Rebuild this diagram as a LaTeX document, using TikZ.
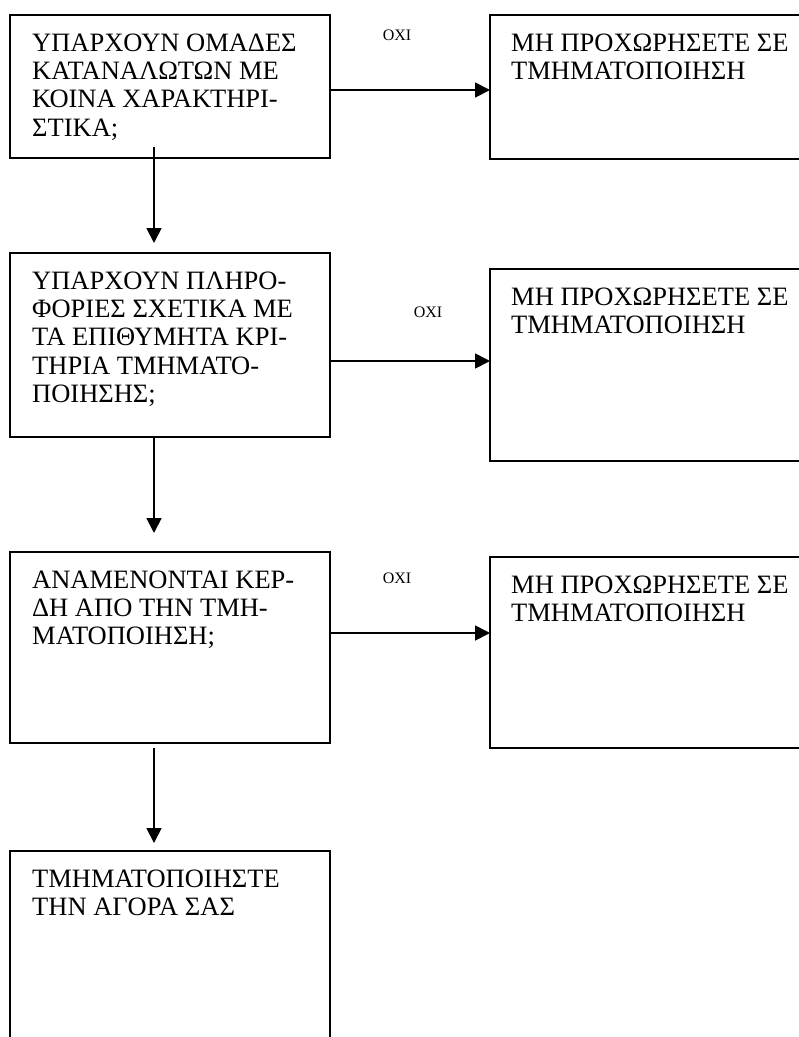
\documentclass[tikz,border=0pt]{standalone}
\usepackage{fontspec}
\setmainfont{Liberation Serif}
\usetikzlibrary{arrows.meta,calc}
\begin{document}
\begin{tikzpicture}[x=1pt,y=-1pt,
  box/.style={draw, line width=2pt, rectangle, inner sep=0pt, outer sep=0pt, anchor=north west},
  txt/.style={anchor=north west, inner sep=0pt, align=left, font=\fontsize{26.5}{28.3}\selectfont},
  lbl/.style={inner sep=0pt, font=\fontsize{16}{18}\selectfont},
  arr/.style={line width=1.8pt, -{Triangle[length=15pt,width=15pt]}}]
\useasboundingbox (0,0) rectangle (799,1037);
% left column boxes
\node[box, minimum width=320pt, minimum height=143pt] (b1) at (10,15) {};
\node[box, minimum width=320pt, minimum height=184pt] (b2) at (10,253) {};
\node[box, minimum width=320pt, minimum height=191pt] (b3) at (10,552) {};
\node[box, minimum width=320pt, minimum height=190pt] (b4) at (10,851) {};
% right column boxes
\node[box, minimum width=313pt, minimum height=144pt] (r1) at (490,15) {};
\node[box, minimum width=313pt, minimum height=192pt] (r2) at (490,269) {};
\node[box, minimum width=313pt, minimum height=191pt] (r3) at (490,557) {};
% texts
\node[txt] (t1) at ([xshift=22pt,yshift=-18.5pt]b1.north west) {ΥΠΑΡΧΟΥΝ ΟΜΑΔΕΣ\\ΚΑΤΑΝΑΛΩΤΩΝ ΜΕ\\ΚΟΙΝΑ ΧΑΡΑΚΤΗΡΙ-\\ΣΤΙΚΑ;};
\node[txt] (t2) at ([xshift=22pt,yshift=-18.5pt]b2.north west) {ΥΠΑΡΧΟΥΝ ΠΛΗΡΟ-\\ΦΟΡΙΕΣ ΣΧΕΤΙΚΑ ΜΕ\\ΤΑ ΕΠΙΘΥΜΗΤΑ ΚΡΙ-\\ΤΗΡΙΑ ΤΜΗΜΑΤΟ-\\ΠΟΙΗΣΗΣ;};
\node[txt] (t3) at ([xshift=22pt,yshift=-18.5pt]b3.north west) {ΑΝΑΜΕΝΟΝΤΑΙ ΚΕΡ-\\ΔΗ ΑΠΟ ΤΗΝ ΤΜΗ-\\ΜΑΤΟΠΟΙΗΣΗ;};
\node[txt] (t4) at ([xshift=22pt,yshift=-18.5pt]b4.north west) {ΤΜΗΜΑΤΟΠΟΙΗΣΤΕ\\ΤΗΝ ΑΓΟΡΑ ΣΑΣ};
\node[txt] (s1) at ([xshift=21pt,yshift=-18.5pt]r1.north west) {ΜΗ ΠΡΟΧΩΡΗΣΕΤΕ ΣΕ\\ΤΜΗΜΑΤΟΠΟΙΗΣΗ};
\node[txt] (s2) at ([xshift=21pt,yshift=-18.5pt]r2.north west) {ΜΗ ΠΡΟΧΩΡΗΣΕΤΕ ΣΕ\\ΤΜΗΜΑΤΟΠΟΙΗΣΗ};
\node[txt] (s3) at ([xshift=21pt,yshift=-18.5pt]r3.north west) {ΜΗ ΠΡΟΧΩΡΗΣΕΤΕ ΣΕ\\ΤΜΗΜΑΤΟΠΟΙΗΣΗ};
% labels
\node[lbl] (o1) at (397,35) {ΟΧΙ};
\node[lbl] (o2) at (428,312) {ΟΧΙ};
\node[lbl] (o3) at (397,578) {ΟΧΙ};
% horizontal arrows
\path ([yshift=-3.5pt]b1.east) coordinate (h1);
\path ([yshift=-16pt]b2.east) coordinate (h2);
\path ([yshift=14.5pt]b3.east) coordinate (h3);
\draw[arr] (h1) -- (h1 -| r1.west);
\draw[arr] (h2) -- (h2 -| r2.west);
\draw[arr] (h3) -- (h3 -| r3.west);
% vertical arrows
\draw[arr] ([xshift=-16pt,yshift=11pt]b1.south) -- ([xshift=-16pt,yshift=10pt]b2.north);
\draw[arr] ([xshift=-16pt]b2.south) -- ([xshift=-16pt,yshift=19pt]b3.north);
\draw[arr] ([xshift=-16pt,yshift=-5pt]b3.south) -- ([xshift=-16pt,yshift=8pt]b4.north);
\end{tikzpicture}
\end{document}
